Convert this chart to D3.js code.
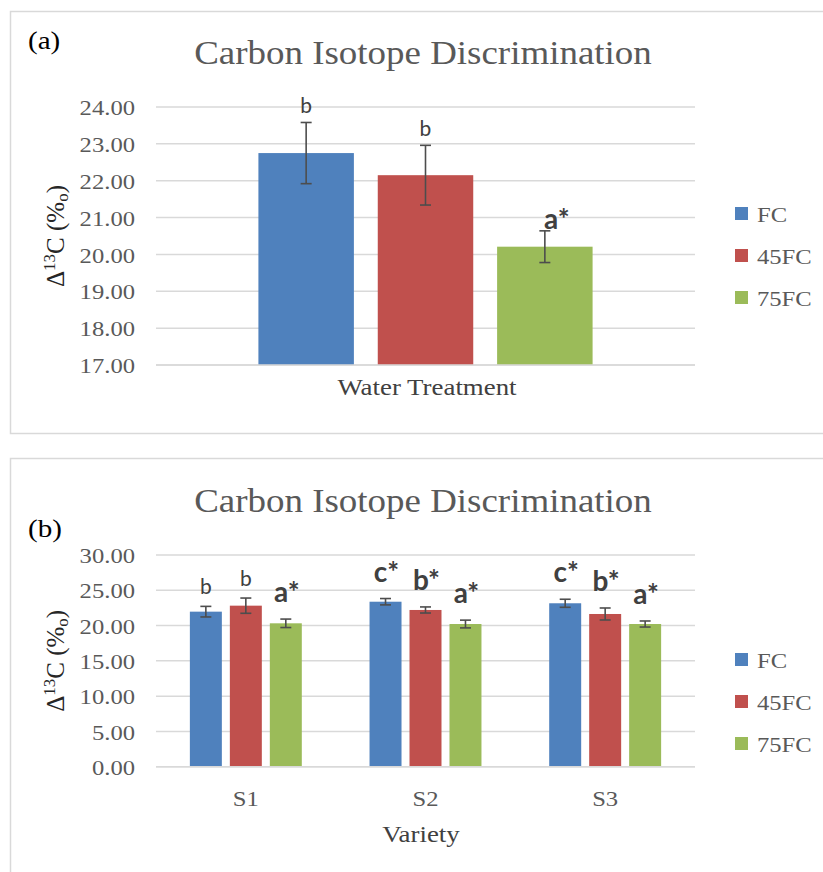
<!DOCTYPE html>
<html>
<head>
<meta charset="utf-8">
<script src="https://cdn.jsdelivr.net/npm/d3@7"></script>
<style>
  body { margin: 0; background: #fff; }
  svg { display: block; }
  .tick text { font-family: "Liberation Serif", serif; fill: #595959; }
  /* the reference serif text is drawn a little wide */
  .w-end, .w-mid, .w-start { transform-box: fill-box; transform: scaleX(1.12); }
  .w-end { transform-origin: 100% 50%; }
  .w-mid { transform-origin: 50% 50%; }
  .w-start { transform-origin: 0% 50%; }
</style>
</head>
<body>
<div id="chart"></div>
<script>
// treatments (legend)
const treatments = ["FC", "45FC", "75FC"]
const colors = ["#4f81bd", "#c0504d", "#9bbb59"]

// panel (a): one category
const catsA = ["Water Treatment"]
const meanA = [[22.75, 22.15, 20.21]]
const errA = [[0.83, 0.81, 0.43]]
const lblA = [["b", "b", "a*"]]
const ticksA = [17, 18, 19, 20, 21, 22, 23, 24]

// panel (b): varieties
const catsB = ["S1", "S2", "S3"]
const meanB = [[21.97, 22.82, 20.32], [23.38, 22.21, 20.22], [23.16, 21.64, 20.22]]
const errB = [[0.75, 1.08, 0.6], [0.45, 0.43, 0.55], [0.57, 0.85, 0.43]]
const lblB = [["b", "b", "a*"], ["c*", "b*", "a*"], ["c*", "b*", "a*"]]
const ticksB = [0, 5, 10, 15, 20, 25, 30]

const width = 823, height = 872

const svg = d3.select("#chart")
  .append("svg")
    .attr("width", width)
    .attr("height", height)

function panel(opt) {
  const g = svg.append("g")

  // frame
  g.append("rect")
    .attr("x", 10.5).attr("y", opt.top + 0.5)
    .attr("width", 830).attr("height", opt.boxH)
    .attr("fill", "none")
    .attr("stroke", "#d9d9d9")
    .attr("stroke-width", 1.5)

  const x0 = d3.scaleBand()
    .domain(opt.cats)
    .range([156, 695])

  const x1 = d3.scaleBand()
    .domain(treatments)
    .range([0, x0.bandwidth() * opt.groupFrac])
    .paddingInner(opt.inner)

  const groupOff = x0.bandwidth() * (1 - opt.groupFrac) / 2

  const y = d3.scaleLinear()
    .domain(opt.domain)
    .range([opt.y0, opt.y1])

  // grid
  g.append("g")
    .selectAll("line")
    .data(opt.ticks)
    .join("line")
      .attr("x1", 156).attr("x2", 695)
      .attr("y1", d => y(d)).attr("y2", d => y(d))
      .attr("stroke", "#d9d9d9")
      .attr("stroke-width", 1.5)

  // y axis
  const yAxis = g.append("g")
    .attr("transform", "translate(139,0)")
    .call(d3.axisLeft(y).tickValues(opt.ticks).tickFormat(d3.format(".2f")).tickSize(0).tickPadding(4))
  yAxis.select(".domain").remove()
  yAxis.selectAll("text").attr("font-size", 22).attr("dy", "0.35em").attr("class", "w-end")

  // x axis labels (categories)
  if (opt.showCats) {
    const xAxis = g.append("g")
      .attr("transform", `translate(0,${opt.y0})`)
      .call(d3.axisBottom(x0).tickSize(0).tickPadding(32))
    xAxis.select(".domain").remove()
    xAxis.selectAll("text").attr("font-size", 22).attr("dy", "0.35em").attr("class", "w-mid")
  }

  // bars
  const groups = g.append("g")
    .selectAll("g")
    .data(opt.cats)
    .join("g")
      .attr("transform", d => `translate(${x0(d) + groupOff},0)`)

  groups.each(function(c, i) {
    const grp = d3.select(this)
    const rows = treatments.map((t, j) => ({
      t: t, v: opt.mean[i][j], e: opt.err[i][j], l: opt.lbl[i][j], c: colors[j]
    }))

    grp.selectAll("rect")
      .data(rows)
      .join("rect")
        .attr("x", d => x1(d.t))
        .attr("y", d => y(d.v))
        .attr("width", x1.bandwidth())
        .attr("height", d => y(opt.domain[0]) - y(d.v))
        .attr("fill", d => d.c)

    // error bars
    const eb = grp.selectAll("g.err")
      .data(rows)
      .join("g")
        .attr("class", "err")
        .attr("stroke", "#4d4d4d")
        .attr("stroke-width", 1.6)
    eb.append("line")
      .attr("x1", d => x1(d.t) + x1.bandwidth() / 2)
      .attr("x2", d => x1(d.t) + x1.bandwidth() / 2)
      .attr("y1", d => y(d.v + d.e))
      .attr("y2", d => y(d.v - d.e))
    eb.append("line")
      .attr("x1", d => x1(d.t) + x1.bandwidth() / 2 - 5.5)
      .attr("x2", d => x1(d.t) + x1.bandwidth() / 2 + 5.5)
      .attr("y1", d => y(d.v + d.e)).attr("y2", d => y(d.v + d.e))
    eb.append("line")
      .attr("x1", d => x1(d.t) + x1.bandwidth() / 2 - 5.5)
      .attr("x2", d => x1(d.t) + x1.bandwidth() / 2 + 5.5)
      .attr("y1", d => y(d.v - d.e)).attr("y2", d => y(d.v - d.e))

    // significance letters
    grp.selectAll("text.sig")
      .data(rows)
      .join("text")
        .attr("class", "sig")
        .attr("x", d => x1(d.t) + x1.bandwidth() / 2 + (d.l.includes("*") ? opt.starDx : 0))
        .attr("y", d => y(d.v + d.e) - (d.l.includes("*") ? opt.starOff : opt.plainOff))
        .attr("text-anchor", "middle")
        .attr("font-family", "Lato, 'Open Sans', sans-serif")
        .attr("font-weight", d => d.l.includes("*") ? "bold" : "normal")
        .attr("font-size", d => d.l.includes("*") ? 28 : 21)
        .attr("fill", "#404040")
        .text(d => d.l)
  })

  // baseline
  g.append("line")
    .attr("x1", 156).attr("x2", 695)
    .attr("y1", opt.y0).attr("y2", opt.y0)
    .attr("stroke", "#d9d9d9")
    .attr("stroke-width", 1.5)

  // title
  g.append("text")
    .attr("class", "w-mid")
    .attr("x", 423)
    .attr("y", opt.titleY)
    .attr("text-anchor", "middle")
    .attr("font-family", "'Liberation Serif', serif")
    .attr("font-size", 33)
    .attr("fill", "#595959")
    .text("Carbon Isotope Discrimination")

  // panel tag
  g.append("text")
    .attr("class", "w-start")
    .attr("x", 28)
    .attr("y", opt.tagY)
    .attr("font-family", "'Liberation Serif', serif")
    .attr("font-size", 26)
    .attr("fill", "#000")
    .text(opt.tag)

  // x title
  g.append("text")
    .attr("class", "w-mid")
    .attr("x", opt.xTitleX)
    .attr("y", opt.xTitleY)
    .attr("text-anchor", "middle")
    .attr("font-family", "'Liberation Serif', serif")
    .attr("font-size", 24)
    .attr("fill", "#404040")
    .text(opt.xTitle)

  // y title
  const yt = g.append("g")
    .attr("transform", `translate(64,${(opt.y0 + opt.y1) / 2}) rotate(-90)`)
    .append("text")
    .attr("text-anchor", "middle")
    .attr("font-family", "'Liberation Serif', serif")
    .attr("font-size", 25)
    .attr("fill", "#262626")
  yt.append("tspan").text("\u0394")
  yt.append("tspan").attr("font-size", 17).attr("dy", -9).text("13")
  yt.append("tspan").attr("dy", 9).text("C (%")
  yt.append("tspan").attr("font-size", 17).attr("dy", 4).text("o")
  yt.append("tspan").attr("dy", -4).text(")")

  // legend
  const lg = g.append("g")
    .selectAll("g")
    .data(treatments)
    .join("g")
      .attr("transform", (d, i) => `translate(735,${opt.legY + i * 42})`)
  lg.append("rect")
    .attr("width", 13).attr("height", 13)
    .attr("fill", (d, i) => colors[i])
  lg.append("text")
    .attr("class", "w-start")
    .attr("x", 22).attr("y", 15)
    .attr("font-family", "'Liberation Serif', serif")
    .attr("font-size", 22)
    .attr("fill", "#595959")
    .text(d => d)
}

panel({
  top: 11, boxH: 422, cats: catsA, mean: meanA, err: errA, lbl: lblA,
  ticks: ticksA, domain: [17, 24], y0: 365, y1: 107,
  groupFrac: 0.62, inner: 0.2, showCats: false,
  plainOff: 9, starOff: 2, starDx: 12,
  titleY: 64, tagY: 49, tag: "(a)", xTitle: "Water Treatment", xTitleX: 427, xTitleY: 395,
  legY: 207
})

panel({
  top: 458, boxH: 430, cats: catsB, mean: meanB, err: errB, lbl: lblB,
  ticks: ticksB, domain: [0, 30], y0: 766.7, y1: 555,
  groupFrac: 0.623, inner: 0.2, showCats: true,
  plainOff: 12, starOff: 17, starDx: 1,
  titleY: 512, tagY: 537, tag: "(b)", xTitle: "Variety", xTitleX: 421, xTitleY: 842,
  legY: 653
})
</script>
</body>
</html>
